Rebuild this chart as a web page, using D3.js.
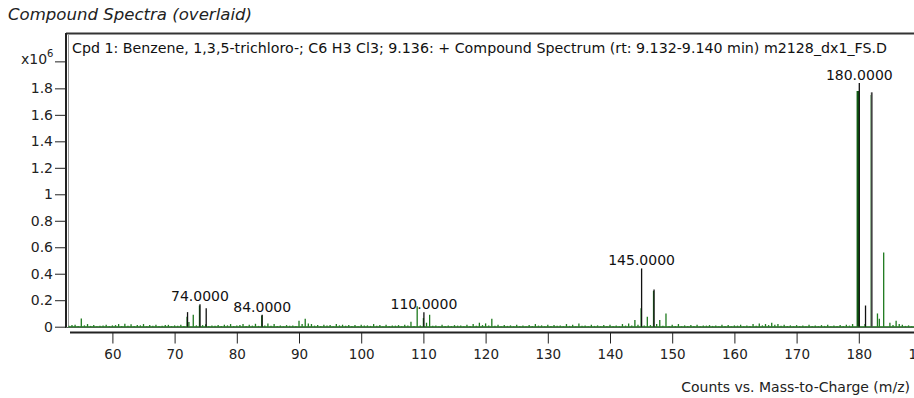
<!DOCTYPE html>
<html><head><meta charset="utf-8">
<script src="https://cdn.jsdelivr.net/npm/d3@7"></script>
<style>
html,body{margin:0;padding:0;background:#fff;}
svg{display:block;font-family:"DejaVu Sans",Verdana,sans-serif;}
</style></head>
<body><svg id="c" width="914" height="398"></svg>
<script>
// ---- data (m/z, counts in millions) ----
const chartTitle = "Compound Spectra (overlaid)";
const headerText = "Cpd 1: Benzene, 1,3,5-trichloro-; C6 H3 Cl3; 9.136: + Compound Spectrum (rt: 9.132-9.140 min) m2128_dx1_FS.D";
const xLabel = "Counts vs. Mass-to-Charge (m/z)";
const xTicks = [60,70,80,90,100,110,120,130,140,150,160,170,180,190];
const yTicks = [0,0.2,0.4,0.6,0.8,1,1.2,1.4,1.6,1.8];
const yTickLabels = ["0","0.2","0.4","0.6","0.8","1","1.2","1.4","1.6","1.8"];
// green: acquired compound spectrum
const greenMz = [53,53.5,54,54.5,55,55.5,56,56.5,57,57.5,58,58.5,59,59.5,60,60.5,61,61.5,62,62.5,63,63.5,64,64.5,65,65.5,66,66.5,67,67.5,68,68.5,69,69.5,70,70.5,71,71.5,72,72.3,73,73.5,74,74.5,75,75.5,76,76.5,77,77.5,78,78.5,79,79.5,80,80.5,81,81.5,82,82.5,83,83.5,84,84.5,85,85.5,86,86.5,87,87.5,88,88.5,89,89.5,90,90.5,91,91.5,92,92.5,93,93.5,94,94.5,95,95.5,96,96.5,97,97.5,98,98.5,99,99.5,100,100.5,101,101.5,102,102.5,103,103.5,104,104.5,105,105.5,106,106.5,107,107.5,108,108.5,109,109.5,110,110.5,111,111.5,112,112.5,113,113.5,114,114.5,115,115.5,116,116.5,117,117.5,118,118.5,119,119.5,120,120.5,121,121.5,122,122.5,123,123.5,124,124.5,125,125.5,126,126.5,127,127.5,128,128.5,129,129.5,130,130.5,131,131.5,132,132.5,133,133.5,134,134.5,135,135.5,136,136.5,137,137.5,138,138.5,139,139.5,140,140.5,141,141.5,142,142.5,143,143.5,144,144.5,145,145.5,146,146.5,147,147.5,148,148.5,149,149.5,150,150.5,151,151.5,152,152.5,153,153.5,154,154.5,155,155.5,156,156.5,157,157.5,158,158.5,159,159.5,160,160.5,161,161.5,162,162.5,163,163.5,164,164.5,165,165.5,166,166.5,167,167.5,168,168.5,169,169.5,170,170.5,171,171.5,172,172.5,173,173.5,174,174.5,175,175.5,176,176.5,177,177.5,178,178.5,179,179.85,181,182,183,183.3,184,185,185.5,186,186.5,187,187.5,188,188.5,189,189.5,190];
const greenVal = [0.008,0.012,0.015,0.006,0.062,0.01,0.02,0.006,0.012,0.004,0.008,0.01,0.015,0.005,0.01,0.012,0.02,0.006,0.022,0.008,0.018,0.006,0.012,0.01,0.02,0.004,0.012,0.008,0.015,0.006,0.008,0.012,0.014,0.005,0.01,0.008,0.015,0.006,0.075,0.035,0.09,0.01,0.16,0.012,0.018,0.006,0.01,0.008,0.012,0.005,0.015,0.01,0.02,0.006,0.01,0.012,0.02,0.005,0.015,0.008,0.022,0.006,0.085,0.01,0.025,0.008,0.02,0.006,0.01,0.004,0.012,0.008,0.01,0.006,0.045,0.02,0.06,0.025,0.02,0.008,0.012,0.006,0.015,0.01,0.012,0.004,0.02,0.01,0.015,0.008,0.012,0.006,0.012,0.004,0.015,0.01,0.01,0.006,0.02,0.008,0.012,0.004,0.015,0.006,0.01,0.008,0.012,0.004,0.015,0.01,0.038,0.006,0.155,0.01,0.065,0.03,0.09,0.008,0.01,0.004,0.015,0.006,0.01,0.005,0.012,0.008,0.01,0.004,0.015,0.006,0.02,0.008,0.03,0.012,0.025,0.01,0.06,0.008,0.015,0.004,0.012,0.006,0.01,0.004,0.015,0.006,0.01,0.004,0.012,0.005,0.02,0.008,0.01,0.004,0.015,0.006,0.012,0.008,0.01,0.004,0.02,0.006,0.015,0.004,0.025,0.008,0.01,0.004,0.015,0.006,0.01,0.004,0.012,0.005,0.015,0.006,0.01,0.004,0.02,0.008,0.025,0.01,0.05,0.015,0.14,0.01,0.075,0.012,0.27,0.02,0.05,0.008,0.1,0.006,0.015,0.006,0.02,0.004,0.01,0.006,0.012,0.005,0.015,0.004,0.01,0.008,0.012,0.006,0.01,0.004,0.015,0.006,0.012,0.004,0.01,0.008,0.015,0.004,0.01,0.006,0.02,0.008,0.025,0.01,0.02,0.012,0.03,0.015,0.02,0.008,0.015,0.006,0.01,0.004,0.012,0.006,0.01,0.004,0.015,0.006,0.01,0.004,0.012,0.006,0.015,0.004,0.01,0.006,0.012,0.005,0.015,0.008,0.02,1.78,0.02,1.75,0.1,0.06,0.56,0.03,0.012,0.045,0.02,0.015,0.006,0.01,0.004,0.012,0.006,0.01];
// black: labelled reference peaks
const blackMz  = [72, 74, 75, 84, 110, 145, 147, 180, 181, 182];
const blackVal = [0.11, 0.17, 0.14, 0.09, 0.11, 0.44, 0.28, 1.84, 0.16, 1.77];
const peakLabels = [[74,"74.0000"],[84,"84.0000"],[110,"110.0000"],[145,"145.0000"],[180,"180.0000"]];

// ---- layout ----
const svg = d3.select("#c");
const x = d3.scaleLinear().domain([52.7, 190]).range([67, 921]);
const y = d3.scaleLinear().domain([0, 2.218]).range([326.7, 33]);
const greenCol = "#1e7a1e";

// title
svg.append("text").attr("x", 8).attr("y", 20).attr("font-size", 16)
  .attr("font-style", "italic").attr("fill", "#222")
  .attr("textLength", 244).attr("lengthAdjust", "spacingAndGlyphs").text(chartTitle);

// plot frame
const fr = svg.append("g");
fr.append("line").attr("x1", 66).attr("x2", 930).attr("y1", 33.5).attr("y2", 33.5)
  .attr("stroke", "#333").attr("stroke-width", 2);
fr.append("line").attr("x1", 66).attr("x2", 66).attr("y1", 33).attr("y2", 328)
  .attr("stroke", "#222").attr("stroke-width", 2);
fr.append("line").attr("x1", 68.5).attr("x2", 68.5).attr("y1", 34).attr("y2", 327)
  .attr("stroke", "#999").attr("stroke-width", 1);
fr.append("line").attr("x1", 66).attr("x2", 930).attr("y1", 327.5).attr("y2", 327.5)
  .attr("stroke", "#556655").attr("stroke-width", 1);

// header inside plot
svg.append("text").attr("x", 72).attr("y", 53).attr("font-size", 13.5)
  .attr("fill", "#111").attr("textLength", 815).attr("lengthAdjust", "spacingAndGlyphs")
  .text(headerText);

// y axis
const yAx = svg.append("g").attr("transform", "translate(65,0)")
  .call(d3.axisLeft(y).tickValues(yTicks).tickSize(10).tickPadding(2)
    .tickFormat((d, i) => yTickLabels[i]));
yAx.select(".domain").remove();
yAx.selectAll("line").attr("stroke", "#222");
yAx.selectAll("text").attr("font-size", 14).attr("fill", "#222")
  .attr("font-family", "DejaVu Sans, Verdana, sans-serif");
// x10^6 tick at 2.0
svg.append("line").attr("x1", 55).attr("x2", 65).attr("y1", y(2.0)).attr("y2", y(2.0)).attr("stroke", "#222");
const mul = svg.append("text").attr("x", 21).attr("y", y(2.0) + 2).attr("font-size", 14).attr("fill", "#222");
mul.append("tspan").text("x10");
mul.append("tspan").attr("font-size", 10).attr("dy", -7).text("6");

// x axis
const xAx = svg.append("g").attr("transform", "translate(0,332.5)")
  .call(d3.axisBottom(x).tickValues(xTicks).tickSize(11).tickPadding(6).tickFormat(d3.format("d")));
xAx.select(".domain").attr("d", "M70,0H930").attr("stroke", "#222").attr("stroke-width", 2);
xAx.selectAll("line").attr("stroke", "#222");
xAx.selectAll("text").attr("font-size", 13.5).attr("fill", "#222")
  .attr("font-family", "DejaVu Sans, Verdana, sans-serif");

svg.append("text").attr("x", 910).attr("y", 392).attr("text-anchor", "end")
  .attr("font-size", 14).attr("fill", "#222").text(xLabel);

// spectra
const plot = svg.append("g");
plot.append("line").attr("x1", 69).attr("x2", 930).attr("y1", y(0)).attr("y2", y(0))
  .attr("stroke", greenCol).attr("stroke-width", 1);
const green = greenMz.map((m, i) => ({m, v: greenVal[i]}));
plot.selectAll("line.g").data(green).join("line").attr("class", "g")
  .attr("x1", d => x(d.m)).attr("x2", d => x(d.m))
  .attr("y1", y(0)).attr("y2", d => y(d.v))
  .attr("stroke", d => d.m < 180 && d.v > 1 ? "#0f5a12" : greenCol)
  .attr("stroke-width", d => d.m < 180 && d.v > 1 ? 2.6 : 1.3);
const black = blackMz.map((m, i) => ({m, v: blackVal[i]}));
plot.selectAll("line.b").data(black).join("line").attr("class", "b")
  .attr("x1", d => x(d.m) + 0.5).attr("x2", d => x(d.m) + 0.5)
  .attr("y1", y(0)).attr("y2", d => y(d.v))
  .attr("stroke", d => d.m > 181 ? "#444" : "#111").attr("stroke-width", d => d.m > 181 ? 1.8 : 1.3);

// peak labels
const bv = new Map(black.map(d => [d.m, d.v]));
plot.selectAll("text.pk").data(peakLabels).join("text").attr("class", "pk")
  .attr("x", d => x(d[0]) + 0.5).attr("y", d => y(bv.get(d[0])) - 3)
  .attr("text-anchor", "middle").attr("font-size", 14).attr("fill", "#111")
  .text(d => d[1]);
</script></body></html>
